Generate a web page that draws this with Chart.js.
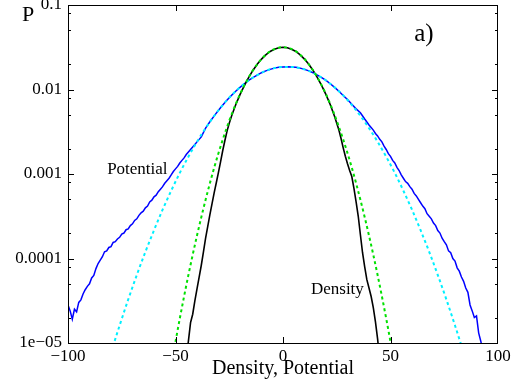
<!DOCTYPE html>
<html>
<head>
<meta charset="utf-8">
<script src="https://cdn.jsdelivr.net/npm/chart.js@4.4.1/dist/chart.umd.min.js"></script>
<style>
    html, body { margin: 0; padding: 0; background: #fff; }
    canvas { display: block; }
</style>
</head>
<body>
<canvas id="chart" width="516" height="387"></canvas>
<script>
// density histogram (black)
const densityX = [
    -46, -45, -44, -43, -42, -41, -40, -39, -38, -37, -36, -35, -34, -33, -32, -31, -30, -29, -28, -27, -26, -25, -24,
    -22, -20, -18, -16, -14, -12, -10, -8, -6, -4, -2, 0, 2, 4, 6, 8, 10, 12, 14, 16, 18, 20, 22,
    24, 25, 26, 27, 28, 29, 30, 31, 32, 33, 34, 35, 36, 37, 38, 39, 40, 41, 42, 43, 44, 45
];
const densityP = [
    3.98e-6, 6.61e-6, 1.05e-5, 1.74e-5, 2.19e-5, 3.16e-5, 4.37e-5, 6.03e-5, 8.32e-5, 1.20e-4, 1.74e-4, 2.40e-4,
    3.31e-4, 4.47e-4, 6.03e-4, 7.94e-4, 1.05e-3, 1.41e-3, 1.91e-3, 2.51e-3, 3.24e-3, 3.98e-3, 4.79e-3,
    6.61e-3, 8.71e-3, 1.11e-2, 1.38e-2, 1.68e-2, 1.99e-2, 2.29e-2, 2.57e-2, 2.82e-2, 3.00e-2, 3.12e-2, 3.16e-2,
    3.12e-2, 3.00e-2, 2.82e-2, 2.57e-2, 2.29e-2, 1.99e-2, 1.68e-2, 1.38e-2, 1.11e-2, 8.71e-3, 6.61e-3,
    4.79e-3, 3.98e-3, 3.31e-3, 2.63e-3, 2.04e-3, 1.62e-3, 1.32e-3, 1.10e-3, 9.33e-4, 6.76e-4, 4.68e-4, 3.16e-4,
    1.91e-4, 1.17e-4, 7.94e-5, 5.62e-5, 4.47e-5, 3.55e-5, 2.63e-5, 1.78e-5, 1.12e-5, 6.31e-6
];

// gaussian fit to density (green dashed)
const densityFitX = [-52, -48, -44, -40, -36, -32, -28, -24, -20, -16, -12, -8, -4, 0, 4, 8, 12, 16, 20, 24, 28, 32, 36, 40, 44, 48, 52];
const densityFitP = [
    5.42e-6, 1.95e-5, 6.37e-5, 1.87e-4, 4.95e-4, 1.19e-3, 2.56e-3, 4.99e-3, 8.77e-3, 1.39e-2, 1.99e-2, 2.58e-2, 3.01e-2,
    3.16e-2, 3.01e-2, 2.58e-2, 1.99e-2, 1.39e-2, 8.77e-3, 4.99e-3, 2.56e-3, 1.19e-3, 4.95e-4, 1.87e-4, 6.37e-5, 1.95e-5, 5.42e-6
];

// potential histogram (blue)
const potentialX = [
    -100, -99, -98, -97, -96, -95, -94, -93, -92, -91, -90, -89, -88, -87, -86, -85, -84, -83, -82, -81,
    -80, -79, -78, -77, -76, -75, -74, -73, -72, -71, -70, -69, -68, -67, -66, -65, -64, -63, -62, -61,
    -60, -59, -58, -57, -56, -55, -54, -53, -52, -51, -50, -49, -48, -47, -46, -45, -44, -43, -42, -41, -40,
    -38, -36, -34, -32, -30, -28, -26, -24, -22, -20, -18, -16, -14, -12, -10, -8, -6, -4, -2, 0,
    2, 4, 6, 8, 10, 12, 14, 16, 18, 20, 22, 24, 26, 28, 30, 32, 34, 36, 38, 40,
    41, 42, 43, 44, 45, 46, 47, 48, 49, 50, 51, 52, 53, 54, 55, 56, 57, 58, 59, 60,
    61, 62, 63, 64, 65, 66, 67, 68, 69, 70, 71, 72, 73, 74, 75, 76, 77, 78, 79, 80,
    81, 82, 83, 84, 85, 86, 87, 88, 89, 90, 91, 92, 93, 94
];
const potentialP = [
    2.82e-5, 2.40e-5, 1.91e-5, 2.51e-5, 2.34e-5, 3.02e-5, 3.24e-5, 3.80e-5, 4.27e-5, 4.68e-5,
    5.01e-5, 5.89e-5, 6.31e-5, 7.59e-5, 8.71e-5, 9.55e-5, 1.05e-4, 1.20e-4, 1.23e-4, 1.35e-4,
    1.38e-4, 1.55e-4, 1.58e-4, 1.70e-4, 1.78e-4, 1.95e-4, 2.00e-4, 2.19e-4, 2.24e-4, 2.45e-4,
    2.57e-4, 2.82e-4, 2.95e-4, 3.24e-4, 3.47e-4, 3.63e-4, 3.98e-4, 4.17e-4, 4.68e-4, 4.90e-4,
    5.37e-4, 5.62e-4, 6.17e-4, 6.61e-4, 7.08e-4, 7.76e-4, 8.32e-4, 8.91e-4, 9.77e-4, 1.07e-3,
    1.15e-3, 1.23e-3, 1.35e-3, 1.45e-3, 1.55e-3, 1.70e-3, 1.82e-3, 1.95e-3, 2.09e-3, 2.24e-3, 2.40e-3,
    2.75e-3, 3.49e-3, 4.15e-3, 4.88e-3, 5.69e-3, 6.56e-3, 7.50e-3, 8.51e-3, 9.55e-3, 1.06e-2,
    1.17e-2, 1.28e-2, 1.38e-2, 1.48e-2, 1.58e-2, 1.66e-2, 1.73e-2, 1.79e-2, 1.83e-2, 1.85e-2,
    1.86e-2, 1.85e-2, 1.83e-2, 1.79e-2, 1.73e-2, 1.66e-2, 1.58e-2, 1.48e-2, 1.38e-2, 1.28e-2,
    1.17e-2, 1.06e-2, 9.55e-3, 8.51e-3, 7.60e-3, 6.70e-3, 5.90e-3, 5.30e-3, 4.47e-3, 3.80e-3,
    3.55e-3, 3.31e-3, 3.02e-3, 2.82e-3, 2.57e-3, 2.40e-3, 2.14e-3, 1.95e-3, 1.74e-3, 1.62e-3,
    1.45e-3, 1.35e-3, 1.20e-3, 1.10e-3, 9.77e-4, 8.91e-4, 8.13e-4, 7.76e-4, 7.08e-4, 6.61e-4,
    5.89e-4, 5.50e-4, 5.01e-4, 4.57e-4, 4.17e-4, 3.89e-4, 3.39e-4, 3.16e-4, 2.95e-4, 2.63e-4,
    2.45e-4, 2.14e-4, 2.00e-4, 1.74e-4, 1.58e-4, 1.45e-4, 1.23e-4, 1.17e-4, 1.00e-4, 9.33e-5,
    7.76e-5, 7.08e-5, 6.03e-5, 5.37e-5, 4.47e-5, 3.98e-5, 2.82e-5, 2.40e-5, 2.00e-5, 2.09e-5,
    1.32e-5, 1.05e-5, 7.94e-6, 5.62e-6
];

// gaussian fit to potential (cyan dashed)
const potentialFitX = [
    -84, -80, -76, -72, -68, -64, -60, -56, -52, -48, -44, -40, -36, -32, -28, -24, -20, -16, -12, -8, -4, 0,
    4, 8, 12, 16, 20, 24, 28, 32, 36, 40, 44, 48, 52, 56, 60, 64, 68, 72, 76, 80, 84, 88
];
const potentialFitP = [
    3.53e-6, 7.69e-6, 1.61e-5, 3.27e-5, 6.37e-5, 1.20e-4, 2.16e-4, 3.78e-4, 6.34e-4, 1.03e-3, 1.60e-3,
    2.41e-3, 3.49e-3, 4.88e-3, 6.56e-3, 8.51e-3, 1.06e-2, 1.28e-2, 1.48e-2, 1.66e-2, 1.79e-2, 1.85e-2,
    1.85e-2, 1.79e-2, 1.66e-2, 1.48e-2, 1.28e-2, 1.06e-2, 8.51e-3, 6.56e-3, 4.88e-3, 3.49e-3, 2.41e-3,
    1.60e-3, 1.03e-3, 6.34e-4, 3.78e-4, 2.16e-4, 1.20e-4, 6.37e-5, 3.27e-5, 1.61e-5, 7.69e-6, 3.53e-6
];

const xTickValues = [-100, -50, 0, 50, 100];
const xTickLabels = ['\u2212100', '\u221250', '0', '50', '100'];
const yTickValues = [1e-5, 1e-4, 1e-3, 1e-2, 1e-1];
const yTickLabels = ['1e\u221205', '0.0001', '0.001', '0.01', '0.1'];
const yMinorTicks = [2e-5, 5e-5, 8e-5, 2e-4, 5e-4, 8e-4, 2e-3, 5e-3, 8e-3, 2e-2, 5e-2, 8e-2];

const SERIF = '"Liberation Serif", "Times New Roman", serif';

function toPoints(xs, ys) {
    return xs.map((x, i) => ({ x: x, y: ys[i] }));
}

// box, inward ticks and the text notes
const framePlugin = {
    id: 'frame',
    afterDatasetsDraw(chart) {
        const { ctx, chartArea: a, scales } = chart;
        const x = scales.x;
        const y = scales.y;
        ctx.save();
        ctx.strokeStyle = '#000';
        ctx.lineWidth = 1;
        ctx.strokeRect(a.left + 0.5, a.top + 0.5, a.right - a.left - 1, a.bottom - a.top);

        ctx.beginPath();
        const yTick = (v, len) => {
            const py = Math.round(y.getPixelForValue(v)) + 0.5;
            ctx.moveTo(a.left, py); ctx.lineTo(a.left + len, py);
            ctx.moveTo(a.right, py); ctx.lineTo(a.right - len, py);
        };
        yTickValues.forEach(v => yTick(v, 6));
        yMinorTicks.forEach(v => yTick(v, 3));
        xTickValues.slice(1, -1).forEach(v => {
            const px = Math.round(x.getPixelForValue(v)) + 0.5;
            ctx.moveTo(px, a.bottom); ctx.lineTo(px, a.bottom - 6);
            ctx.moveTo(px, a.top); ctx.lineTo(px, a.top + 6);
        });
        ctx.stroke();

        ctx.fillStyle = '#000';
        ctx.textBaseline = 'alphabetic';
        ctx.textAlign = 'left';
        ctx.font = '17px ' + SERIF;
        ctx.fillText('Potential', x.getPixelForValue(-81.8), y.getPixelForValue(1e-3));
        ctx.fillText('Density', x.getPixelForValue(13), y.getPixelForValue(3.8e-5));
        ctx.font = '25px ' + SERIF;
        ctx.fillText('a)', x.getPixelForValue(61), y.getPixelForValue(0.038));
        ctx.font = '22px ' + SERIF;
        ctx.fillText('P', 22, 21);
        ctx.restore();
    }
};

new Chart(document.getElementById('chart'), {
    type: 'line',
    data: {
        datasets: [
            {
                label: 'Density fit',
                data: toPoints(densityFitX, densityFitP),
                borderColor: '#00e000',
                borderWidth: 2,
                borderDash: [3, 3],
                pointRadius: 0,
                cubicInterpolationMode: 'monotone'
            },
            {
                label: 'Potential fit',
                data: toPoints(potentialFitX, potentialFitP),
                borderColor: '#00f0ff',
                borderWidth: 2,
                borderDash: [3, 3],
                pointRadius: 0,
                cubicInterpolationMode: 'monotone'
            },
            {
                label: 'Density',
                data: toPoints(densityX, densityP),
                borderColor: '#000',
                borderWidth: 1.6,
                pointRadius: 0
            },
            {
                label: 'Potential',
                data: toPoints(potentialX, potentialP),
                borderColor: '#0000ff',
                borderWidth: 1.5,
                pointRadius: 0
            }
        ]
    },
    options: {
        responsive: false,
        animation: false,
        devicePixelRatio: 1,
        layout: { padding: { top: 5, right: 18, left: 0, bottom: 0 } },
        plugins: { legend: { display: false }, tooltip: { enabled: false } },
        scales: {
            x: {
                type: 'linear',
                min: -100,
                max: 100,
                grid: { display: false, drawTicks: false },
                border: { display: false },
                afterBuildTicks: scale => { scale.ticks = xTickValues.map(v => ({ value: v })); },
                afterFit: scale => {
                    scale.height = 44;
                    scale.paddingLeft = 0;
                    scale.paddingRight = 0;
                },
                ticks: {
                    autoSkip: false,
                    maxRotation: 0,
                    padding: 3,
                    color: '#000',
                    font: { family: SERIF, size: 17 },
                    callback: value => xTickLabels[xTickValues.indexOf(value)]
                },
                title: {
                    display: true,
                    text: 'Density, Potential',
                    color: '#000',
                    font: { family: SERIF, size: 20 },
                    padding: { top: 0, bottom: 6 }
                }
            },
            y: {
                type: 'logarithmic',
                min: 1e-5,
                max: 0.1,
                grid: { display: false, drawTicks: false },
                border: { display: false },
                afterBuildTicks: scale => { scale.ticks = yTickValues.map(v => ({ value: v })); },
                afterFit: scale => {
                    scale.width = 68;
                    scale.paddingTop = 0;
                    scale.paddingBottom = 0;
                },
                ticks: {
                    autoSkip: false,
                    padding: 6,
                    color: '#000',
                    font: { family: SERIF, size: 17 },
                    callback: value => yTickLabels[yTickValues.indexOf(value)]
                }
            }
        }
    },
    plugins: [framePlugin]
});
</script>
</body>
</html>
